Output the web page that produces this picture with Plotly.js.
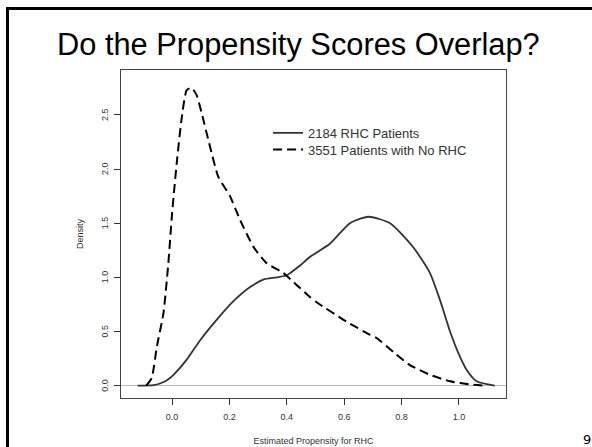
<!DOCTYPE html>
<html>
<head>
<meta charset="utf-8">
<script src="https://cdn.plot.ly/plotly-3.0.1.min.js"></script>
<style>
html,body{margin:0;padding:0;background:#fff;}
#chart{width:592px;height:447px;}
</style>
</head>
<body>
<div id="chart"></div>
<script>
// Solid curve: 2184 RHC patients
const rhcX = [-0.12, -0.065, -0.042, -0.018, 0.005, 0.051, 0.098, 0.156, 0.214, 0.272, 0.318, 0.365, 0.40, 0.446, 0.481, 0.55, 0.62, 0.684, 0.76, 0.84, 0.899, 0.934, 0.969, 0.998, 1.027, 1.062, 1.125];
const rhcY = [0.0, 0.005, 0.02, 0.05, 0.10, 0.24, 0.42, 0.61, 0.78, 0.91, 0.98, 1.00, 1.02, 1.11, 1.19, 1.31, 1.50, 1.56, 1.50, 1.28, 1.04, 0.79, 0.50, 0.30, 0.145, 0.04, 0.0];
// Dashed curve: 3551 patients with no RHC
const noX = [-0.09, -0.071, -0.053, -0.03, -0.013, 0.0, 0.016, 0.034, 0.051, 0.069, 0.086, 0.103, 0.132, 0.161, 0.202, 0.237, 0.284, 0.33, 0.388, 0.434, 0.48, 0.504, 0.609, 0.69, 0.713, 0.772, 0.829, 0.899, 0.969, 1.04, 1.085];
const noY = [0.0, 0.07, 0.36, 0.67, 1.13, 1.59, 2.05, 2.48, 2.73, 2.75, 2.68, 2.52, 2.21, 1.93, 1.75, 1.53, 1.28, 1.13, 1.04, 0.93, 0.82, 0.77, 0.59, 0.47, 0.44, 0.31, 0.19, 0.10, 0.04, 0.01, 0.0];

const xTicks = [0, 0.2, 0.4, 0.6, 0.8, 1.0];
const xTickText = ["0.0", "0.2", "0.4", "0.6", "0.8", "1.0"];
const yTicks = [0, 0.5, 1.0, 1.5, 2.0, 2.5];
const yTickText = ["0.0", "0.5", "1.0", "1.5", "2.0", "2.5"];
const seriesNames = ["2184 RHC Patients", "3551 Patients with No RHC"];

const axFont = {family: "Liberation Sans, Arial, sans-serif", size: 9, color: "#333"};
const legFont = {family: "Liberation Sans, Arial, sans-serif", size: 13, color: "#333"};

const traces = [
  {x: rhcX, y: rhcY, name: seriesNames[0], type: "scatter", mode: "lines", legend: "legend",
   line: {color: "#333", width: 1.8, shape: "spline", smoothing: 0.6}},
  {x: noX, y: noY, name: seriesNames[1], type: "scatter", mode: "lines", legend: "legend2",
   line: {color: "#000", width: 2, dash: "9px,5px", shape: "spline", smoothing: 0.5}}
];

// y tick labels placed as rotated annotations at the axis tick values
const yLabelAnns = yTicks.map((v, i) => ({
  text: yTickText[i], xref: "paper", yref: "y", x: (105 - 121) / 385, y: v,
  xanchor: "center", yanchor: "middle", textangle: -90, showarrow: false, font: axFont
}));

const layout = {
  width: 592, height: 447,
  margin: {l: 121, r: 86, t: 70, b: 49},
  paper_bgcolor: "#fff", plot_bgcolor: "#fff",
  showlegend: true,
  legend: {x: 0.382, y: 0.854, xanchor: "left", yanchor: "top", font: legFont, bgcolor: "rgba(0,0,0,0)"},
  legend2: {x: 0.382, y: 0.8033, xanchor: "left", yanchor: "top", font: legFont, bgcolor: "rgba(0,0,0,0)"},
  title: {text: "Do the Propensity Scores Overlap?",
    font: {family: "Liberation Sans, Arial, sans-serif", size: 30.8, color: "#000"},
    xref: "container", yref: "container", x: 0.504, y: 0.9, xanchor: "center", yanchor: "middle"},
  xaxis: {range: [-0.178, 1.164], tickvals: xTicks, ticktext: xTickText,
    ticks: "outside", ticklen: 6, tickcolor: "#333", tickfont: axFont, ticklabelstandoff: 4,
    showgrid: false, zeroline: false, showline: true, mirror: true, linecolor: "#444", linewidth: 1,
    title: {text: "Estimated Propensity for RHC", font: axFont, standoff: 16}},
  yaxis: {range: [-0.114, 2.915], tickvals: yTicks, showticklabels: false,
    ticks: "outside", ticklen: 6, tickcolor: "#333",
    showgrid: false, zeroline: true, zerolinecolor: "#bbb", zerolinewidth: 1,
    showline: true, mirror: true, linecolor: "#444", linewidth: 1,
    title: {text: "Density", font: axFont, standoff: 28}},
  shapes: [
    {type: "rect", xref: "paper", yref: "paper", x0: -0.2948, x1: 1.3, y0: -0.3, y1: 1.1875,
     line: {color: "#000", width: 3}, fillcolor: "rgba(0,0,0,0)", layer: "above"}
  ],
  annotations: yLabelAnns.concat([
    {text: "9", xref: "paper", yref: "paper", x: (587 - 121) / 385, y: (398 - 440) / 328,
     xanchor: "center", yanchor: "middle", showarrow: false,
     font: {family: "DejaVu Sans, sans-serif", size: 13, color: "#000"}}
  ])
};

Plotly.newPlot("chart", traces, layout, {staticPlot: true, displayModeBar: false});
</script>
</body>
</html>
